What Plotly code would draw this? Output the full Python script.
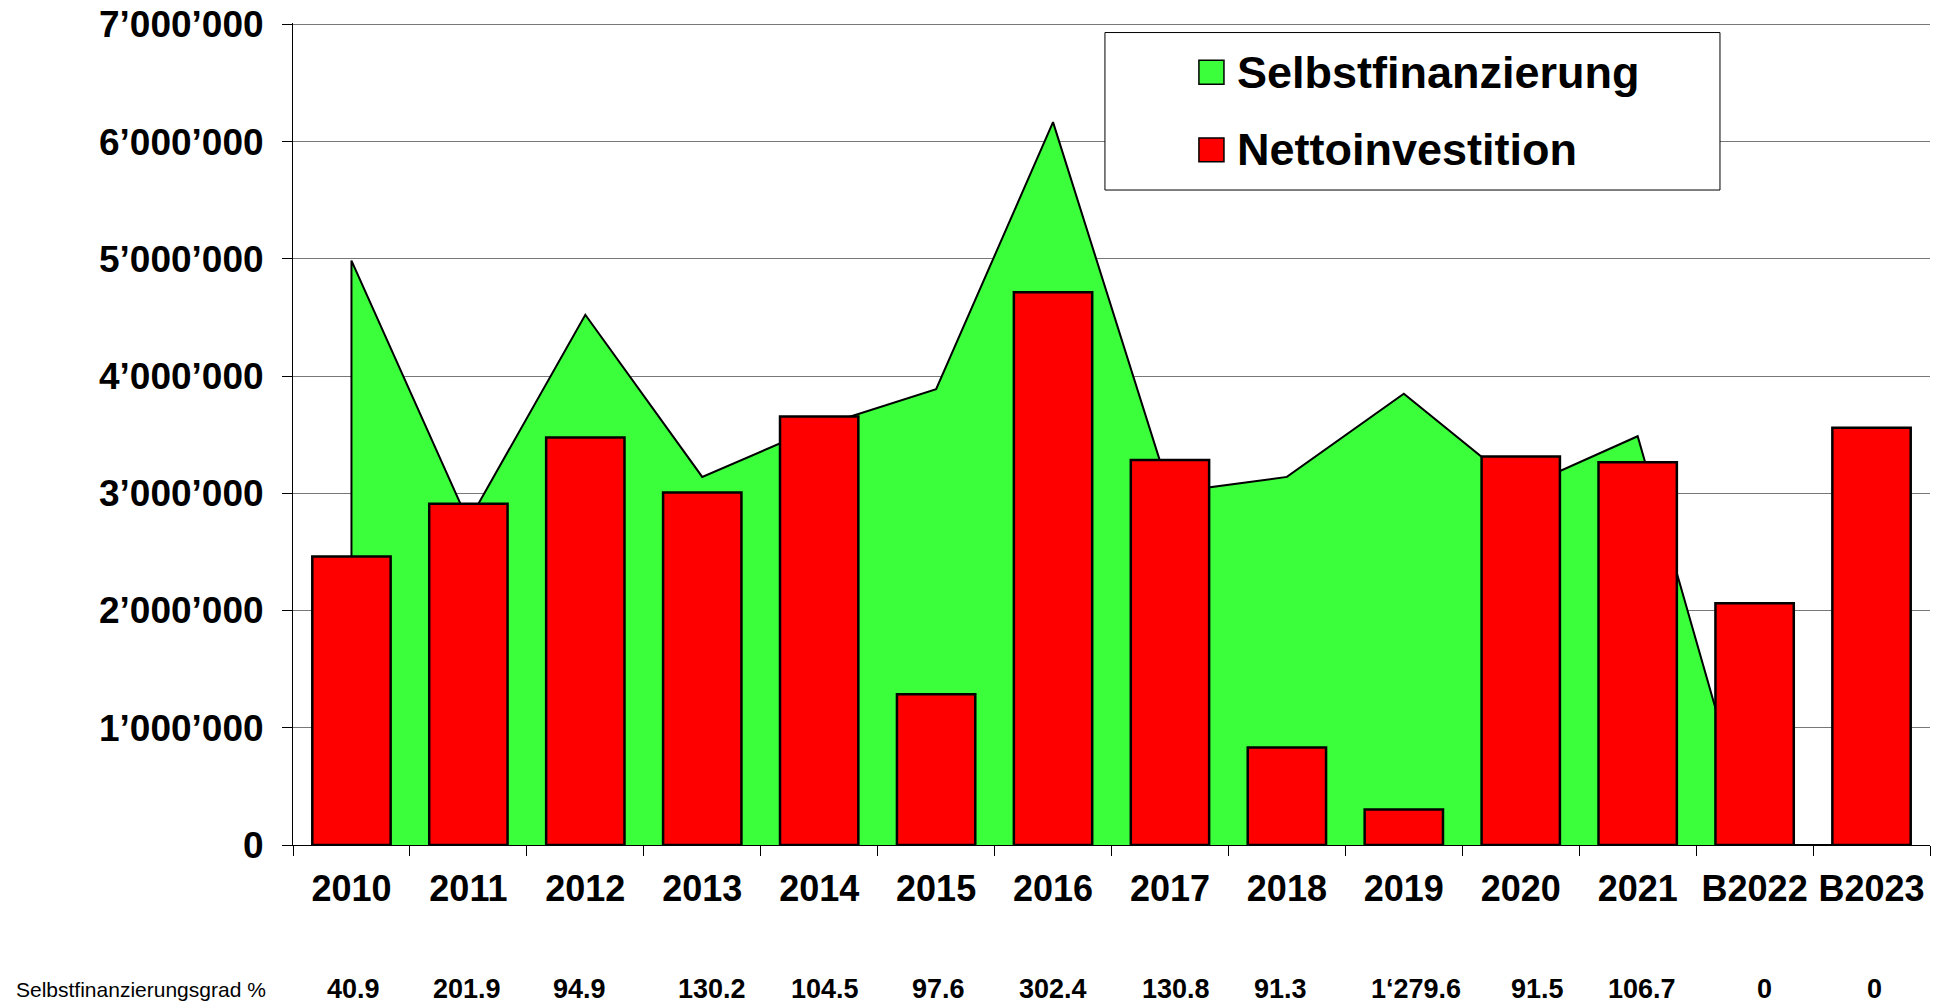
import plotly.graph_objects as go

# ---------------- data ----------------
years = ["2010", "2011", "2012", "2013", "2014", "2015", "2016", "2017",
         "2018", "2019", "2020", "2021", "B2022", "B2023"]
selbstfinanzierung = [4985000, 2760000, 4523000, 3140000, 3570000, 3888000, 6166000,
                      3006000, 3140000, 3850000, 3040000, 3487000, 0, 0]
nettoinvestition = [2460000, 2910000, 3476000, 3006000, 3655000, 1286000, 4716000,
                    3285000, 831000, 302000, 3313000, 3264000, 2062000, 3560000]
grad_labels = ["40.9", "201.9", "94.9", "130.2", "104.5", "97.6", "302.4", "130.8",
               "91.3", "1\u2018279.6", "91.5", "106.7", "0", "0"]
y_tickvals = [0, 1000000, 2000000, 3000000, 4000000, 5000000, 6000000, 7000000]
y_ticktext = ["0", "1\u2019000\u2019000", "2\u2019000\u2019000", "3\u2019000\u2019000",
              "4\u2019000\u2019000", "5\u2019000\u2019000", "6\u2019000\u2019000",
              "7\u2019000\u2019000"]

# small horizontal offsets (px) of the bottom-row labels as placed in the original
grad_shift = [2, -1, -6, 10, 6, 2, 0, 6, -6, 12, 17, 4, 10, 3]

GREEN = "#3CFF3C"
RED = "#FF0000"
FONT = "Arial, Liberation Sans, sans-serif"

fig = go.Figure()

# green area (behind) on main axes
fig.add_trace(go.Scatter(
    x=[years[0]] + years, y=[0] + selbstfinanzierung,
    mode="lines", fill="tozeroy", fillcolor=GREEN,
    line=dict(color="black", width=2),
    name="Selbstfinanzierung", showlegend=False,
    xaxis="x", yaxis="y", hoverinfo="skip",
))

# red bars (front) on overlaying axes
fig.add_trace(go.Bar(
    x=years, y=nettoinvestition, width=0.67,
    marker=dict(color=RED, line=dict(color="black", width=2.5)),
    name="Nettoinvestition", showlegend=False,
    xaxis="x2", yaxis="y2",
))

rng_x = [-0.5, len(years) - 0.5]
rng_y = [0, 7012000]

fig.update_layout(
    width=1944, height=1004,
    margin=dict(l=293, r=14, t=23, b=159, autoexpand=False),
    paper_bgcolor="white", plot_bgcolor="white",
    font=dict(family=FONT, color="black"),
    showlegend=False,
    xaxis=dict(
        type="category", categoryorder="array", categoryarray=years,
        range=rng_x, showgrid=False, zeroline=False, automargin=False,
        showline=True, linecolor="black", linewidth=1,
        ticks="outside", tickson="boundaries", ticklen=10, tickcolor="black", tickwidth=1,
        tickfont=dict(family=FONT, size=36, weight="bold", color="black"),
        ticklabelstandoff=12,
    ),
    yaxis=dict(
        range=rng_y, tickvals=y_tickvals, ticktext=y_ticktext,
        showgrid=True, gridcolor="#777777", gridwidth=1, zeroline=False,
        automargin=False,
        showline=True, linecolor="black", linewidth=1,
        ticks="outside", ticklen=10, tickcolor="black", tickwidth=1,
        tickfont=dict(family=FONT, size=37, weight="bold", color="black"),
        ticklabelstandoff=11, ticklabeloverflow="allow",
    ),
    xaxis2=dict(
        type="category", categoryorder="array", categoryarray=years,
        range=rng_x, overlaying="x", anchor="y2", visible=False, automargin=False,
    ),
    yaxis2=dict(range=rng_y, overlaying="y", anchor="x2", visible=False,
                showgrid=False, automargin=False),
)

# bottom row: Selbstfinanzierungsgrad %
row_y = -0.1752
fig.add_annotation(
    x=-0.1704, y=row_y, xref="paper", yref="paper",
    xanchor="left", yanchor="middle", showarrow=False,
    text="Selbstfinanzierungsgrad %",
    font=dict(family=FONT, size=21),
)
for i, (lab, sh) in enumerate(zip(grad_labels, grad_shift)):
    fig.add_annotation(
        x=i, y=row_y, xref="x", yref="paper", xshift=sh,
        xanchor="center", yanchor="middle", showarrow=False,
        text="<b>" + lab + "</b>",
        font=dict(family=FONT, size=27),
    )

# legend box
fig.add_shape(type="rect", xref="paper", yref="paper",
              x0=0.496, x1=0.8717, y0=0.7968, y1=0.9884,
              line=dict(color="black", width=1), fillcolor="white", layer="above")
legend_items = [("Selbstfinanzierung", GREEN), ("Nettoinvestition", RED)]
leg_y = [0.9401, 0.8457]
for (name, col), yy in zip(legend_items, leg_y):
    fig.add_shape(type="rect", xref="paper", yref="paper",
                  x0=0.5534, x1=0.5687, y0=yy - 0.0145, y1=yy + 0.0145,
                  line=dict(color="black", width=1.5), fillcolor=col, layer="above")
    fig.add_annotation(
        x=0.5754, y=yy, xref="paper", yref="paper",
        xanchor="left", yanchor="middle", showarrow=False,
        text="<b>" + name + "</b>",
        font=dict(family=FONT, size=45),
    )

# remove the default 8px body margin so the figure fills the window exactly
fig.write_html("out.html", config={"displayModeBar": False},
               post_script="document.body.style.margin='0';")
